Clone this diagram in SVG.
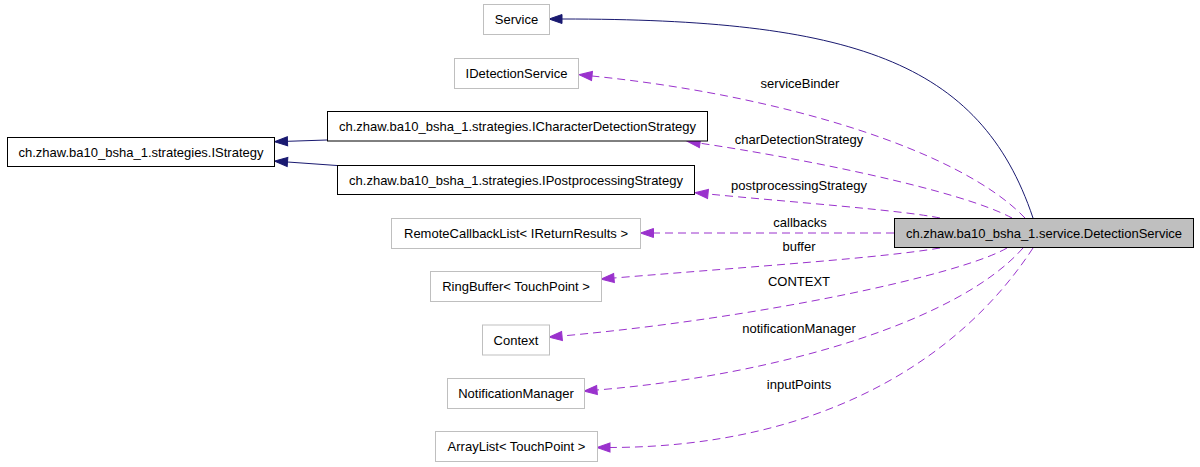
<svg xmlns="http://www.w3.org/2000/svg" width="1200" height="467" viewBox="0 0 1200 467">
<style>
text{font-family:"Liberation Sans",Arial,sans-serif;font-size:13px;fill:#000;text-anchor:middle}
.ext{fill:#fff;stroke:#bfbfbf;stroke-width:1}
.doc{fill:#fff;stroke:#000;stroke-width:1}
.main{fill:#bfbfbf;stroke:#000;stroke-width:1}
.inh{fill:none;stroke:#191970;stroke-width:1;marker-end:url(#navy)}
.use{fill:none;stroke:#9a32cd;stroke-width:1;stroke-dasharray:8,5;marker-end:url(#purple)}
</style>
<defs>
<marker id="navy" markerUnits="userSpaceOnUse" markerWidth="14" markerHeight="10" refX="0" refY="4.5" orient="auto" overflow="visible">
<path d="M0,0 L13,4.5 L0,9 z" fill="#191970" stroke="#191970" stroke-width="1"/>
</marker>
<marker id="purple" markerUnits="userSpaceOnUse" markerWidth="14" markerHeight="10" refX="0" refY="4.5" orient="auto" overflow="visible">
<path d="M0,0 L13,4.5 L0,9 z" fill="#9a32cd" stroke="#9a32cd" stroke-width="1"/>
</marker>
</defs>
<rect width="1200" height="467" fill="#fff"/>
<g id="connectors">
<path class="inh" d="M1033,218 C980,60 850,19 562,19"/>
<path class="inh" d="M327,140 L287.5,141.3"/>
<path class="inh" d="M337,165.5 L287.5,162"/>
<path class="use" d="M1025,218 C960,150 780,95 592,76"/>
<path class="use" d="M1012,218 C960,190 800,158 700,143.2"/>
<path class="use" d="M940,218 C900,210 790,202 708,194"/>
<path class="use" d="M894,233 L653.5,233"/>
<path class="use" d="M940,248 C880,258 760,266 614,278"/>
<path class="use" d="M1007,248 C960,275 760,318 562,336"/>
<path class="use" d="M1023,248 C960,320 780,375 597,390"/>
<path class="use" d="M1033,248 C960,360 820,447 610,447.5"/>
<text x="800" y="87.5">serviceBinder</text>
<text x="799" y="144">charDetectionStrategy</text>
<text x="799" y="189.5">postprocessingStrategy</text>
<text x="800" y="227">callbacks</text>
<text x="799" y="251">buffer</text>
<text x="799" y="285.5">CONTEXT</text>
<text x="799" y="332.5">notificationManager</text>
<text x="799" y="389">inputPoints</text>
</g>
<g id="node-DetectionService">
<rect class="main" x="894.5" y="218.5" width="299" height="29"/>
<text x="1044" y="237.5">ch.zhaw.ba10_bsha_1.service.DetectionService</text>
</g>
<g id="node-Service">
<rect class="ext" x="483.5" y="4.5" width="66" height="30"/>
<text x="516.5" y="24">Service</text>
</g>
<g id="node-IDetectionService">
<rect class="ext" x="454.5" y="58.5" width="124" height="30"/>
<text x="516.5" y="78">IDetectionService</text>
</g>
<g id="node-ICharacterDetectionStrategy">
<rect class="doc" x="327.5" y="111.5" width="380" height="29.5"/>
<text x="517.5" y="131">ch.zhaw.ba10_bsha_1.strategies.ICharacterDetectionStrategy</text>
</g>
<g id="node-IStrategy">
<rect class="doc" x="7.5" y="137.5" width="267" height="29"/>
<text x="141" y="156.5">ch.zhaw.ba10_bsha_1.strategies.IStrategy</text>
</g>
<g id="node-IPostprocessingStrategy">
<rect class="doc" x="337.5" y="165.5" width="357" height="29"/>
<text x="516" y="184.5">ch.zhaw.ba10_bsha_1.strategies.IPostprocessingStrategy</text>
</g>
<g id="node-RemoteCallbackList">
<rect class="ext" x="391.5" y="218.5" width="249" height="30"/>
<text x="516" y="238">RemoteCallbackList&lt; IReturnResults &gt;</text>
</g>
<g id="node-RingBuffer">
<rect class="ext" x="430.5" y="271.5" width="171" height="30"/>
<text x="516" y="291">RingBuffer&lt; TouchPoint &gt;</text>
</g>
<g id="node-Context">
<rect class="ext" x="482.5" y="325" width="67" height="30"/>
<text x="516" y="344.5">Context</text>
</g>
<g id="node-NotificationManager">
<rect class="ext" x="447.5" y="378.5" width="137" height="30"/>
<text x="516" y="398">NotificationManager</text>
</g>
<g id="node-ArrayList">
<rect class="ext" x="435.5" y="431.5" width="162" height="30"/>
<text x="516.5" y="451">ArrayList&lt; TouchPoint &gt;</text>
</g>
</svg>
